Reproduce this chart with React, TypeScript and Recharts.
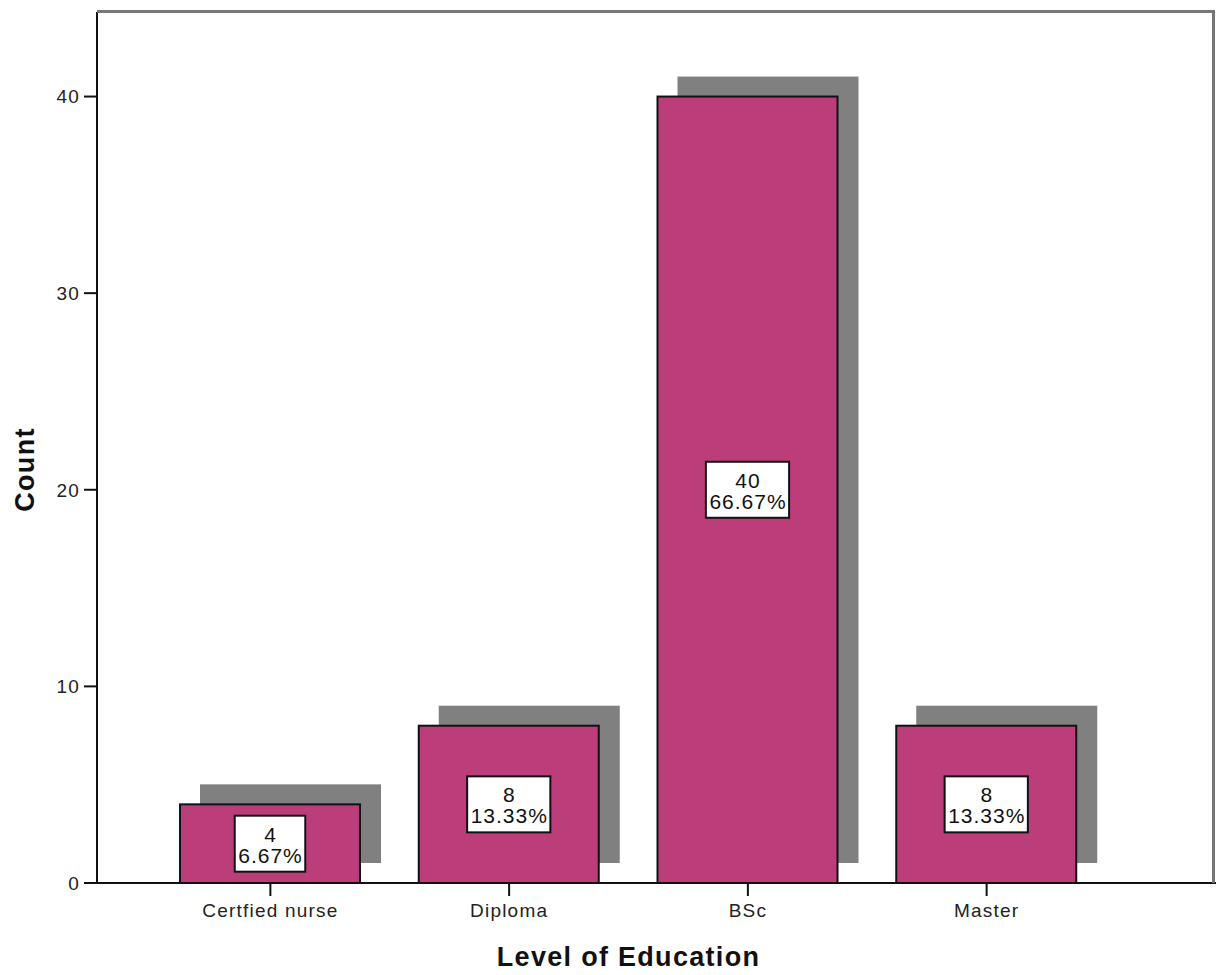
import { BarChart, Bar, XAxis, YAxis, LabelList } from 'recharts';

const levels = ['Certfied nurse', 'Diploma', 'BSc', 'Master'];
const counts = [4, 8, 40, 8];
const countTicks = [0, 10, 20, 30, 40];

const total = counts.reduce((s, v) => s + v, 0);
const data = levels.map((level, i) => ({
  level,
  count: counts[i],
  pct: ((counts[i] / total) * 100).toFixed(2) + '%',
}));

const FONT = '"Liberation Sans", Arial, sans-serif';
const BAR_FILL = '#bb3e7b';
const SHADOW = '#808080';
const SHADOW_OFFSET = 20;

const W = 1219;
const H = 975;
const PLOT = { left: 97, top: 12, right: 3, bottom: 92 };

// rough Arial advance widths, used to size the label boxes
const charWidth = (c: string) => (c === '.' ? 0.278 : c === '%' ? 0.889 : 0.556);
const textWidth = (s: string, size: number, spacing: number) =>
  s.split('').reduce((w, c) => w + charWidth(c) * size + spacing, 0);

// bar with a drop shadow shifted up and to the right
const ShadowBar = (props: any) => {
  const { x, y, width, height } = props;
  return (
    <g>
      <rect x={x + SHADOW_OFFSET} y={y - SHADOW_OFFSET} width={width + 1} height={height} fill={SHADOW} />
      <rect x={x} y={y} width={width} height={height} fill={BAR_FILL} stroke="#111" strokeWidth={2} />
    </g>
  );
};

// white boxed count + percent label in the middle of each bar
const BoxLabel = (props: any) => {
  const { x, y, width, height, index } = props;
  const d = data[index];
  const cx = x + width / 2;
  const cy = y + height / 2;
  const boxW = Math.max(textWidth(d.pct, 21, 1), textWidth(String(d.count), 21, 1)) + 6;
  const boxH = 56;
  const top = Math.min(cy - boxH / 2, y + height - boxH - 8);
  const txt = { textAnchor: 'middle' as const, fontFamily: FONT, fontSize: 21, letterSpacing: 1, fill: '#111' };
  return (
    <g>
      <rect x={cx - boxW / 2} y={top} width={boxW} height={boxH} fill="#fff" stroke="#111" strokeWidth={2} />
      <text x={cx + 0.5} y={top + 26} {...txt}>{d.count}</text>
      <text x={cx + 0.5} y={top + 47} {...txt}>{d.pct}</text>
    </g>
  );
};

// rotated y-axis title
const CountTitle = (props: any) => {
  const { viewBox } = props;
  const x = viewBox.x + 25;
  const y = viewBox.y + viewBox.height / 2 + 22;
  return (
    <text
      x={x}
      y={y}
      transform={`rotate(-90, ${x}, ${y})`}
      textAnchor="middle"
      dominantBaseline="central"
      fontFamily={FONT}
      fontSize={27}
      letterSpacing={1.3}
      fontWeight="bold"
      fill="#111"
    >
      Count
    </text>
  );
};

const tickStyle = { fontFamily: FONT, fontSize: 19, letterSpacing: 1.2, fill: '#222' };

export default function App() {
  return (
    <div style={{ position: 'absolute', left: 0, top: 0, width: W, height: H, background: '#fff' }}>
      <BarChart
        width={W}
        height={H}
        data={data}
        margin={{ top: PLOT.top, right: PLOT.right, bottom: 0, left: 0 }}
        barSize={180}
      >
        <XAxis
          dataKey="level"
          height={PLOT.bottom}
          padding={{ left: 54, right: 110 }}
          stroke="#111"
          strokeWidth={2}
          tickSize={13}
          tickMargin={8}
          tick={tickStyle}
          label={{
            value: 'Level of Education',
            position: 'insideBottom',
            offset: 9,
            dx: -28,
            fontFamily: FONT,
            fontSize: 27,
            letterSpacing: 1.3,
            fontWeight: 'bold',
            fill: '#111',
          }}
        />
        <YAxis
          width={PLOT.left}
          domain={[0, 44.3]}
          ticks={countTicks}
          allowDataOverflow
          stroke="#111"
          strokeWidth={2}
          tickSize={13}
          tickMargin={4}
          tick={tickStyle}
          label={<CountTitle />}
        />
        <Bar dataKey="count" shape={<ShadowBar />} isAnimationActive={false}>
          <LabelList dataKey="count" content={<BoxLabel />} />
        </Bar>
      </BarChart>
      {/* grey frame on the top and right of the plot area */}
      <div
        style={{
          position: 'absolute',
          left: PLOT.left,
          top: PLOT.top - 2,
          width: W - PLOT.left - PLOT.right - 1,
          height: H - PLOT.top - PLOT.bottom + 2,
          borderTop: '3px solid #777',
          borderRight: '3px solid #777',
          boxSizing: 'border-box',
          pointerEvents: 'none',
        }}
      />
    </div>
  );
}
